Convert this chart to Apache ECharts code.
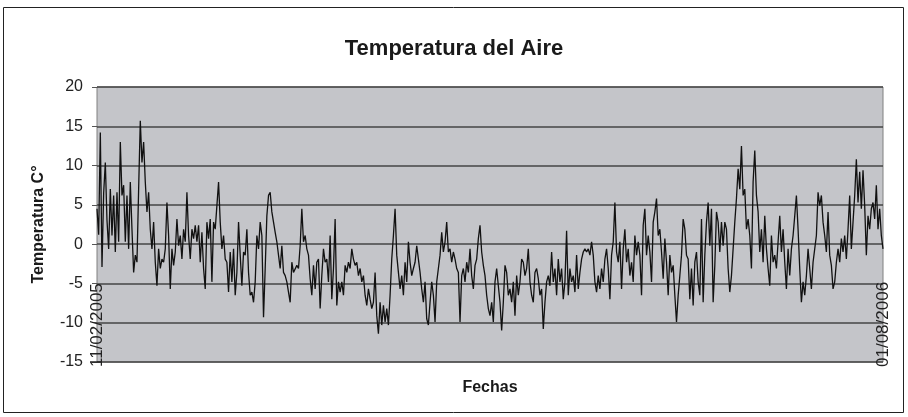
<!DOCTYPE html>
<html>
<head>
<meta charset="utf-8">
<script src="https://cdn.jsdelivr.net/npm/echarts@6/dist/echarts.min.js"></script>
<style>
html,body{margin:0;padding:0;background:#fff;}
#c{width:908px;height:417px;}
</style>
</head>
<body>
<div id="c"></div>
<script>
const titleText = 'Temperatura del Aire';
const yAxisName = 'Temperatura C°';
const xAxisName = 'Fechas';
const xTickLabels = ['11/02/2005', '01/08/2006'];
const yMin = -15, yMax = 20, yStep = 5;

const seg1 = [4.5,1.2,14.2,-2.9,6.5,10.4,3.0,-0.6,7.0,1.1,
6.2,-1.0,6.6,0.3,13.0,6.2,7.5,0.3,6.2,-0.6,
7.9,1.9,-3.6,-1.4,-2.3,7.0,15.7,10.4,13.0,7.9,
4.1,6.6,1.9,-0.6,2.8,-2.3,-5.3,-0.6,-3.1,-1.9,
-2.3,-0.6,5.3,1.1,-5.7,-0.6,-2.7,-1.0,3.2,-0.2,
1.1,-1.9,1.9,0.3,6.6,1.1,-1.9,1.9,0.7,2.4,
0.3,2.4,-2.3,1.5,-3.1,-5.7,2.8,0.7,3.2,-4.8,
2.8,1.9,4.9,7.9,2.8,-0.6,1.1,-1.9,-2.3,-6.1,
-1.0,-4.8,-0.6,-6.5,-3.6,2.8,-1.4,-5.3,-1.0,-1.4,
1.9,-3.6,-6.5,-6.1,-7.4,-4.8,1.1,-0.6,2.8,1.1,
-9.3,-3.1,3.6,6.2,6.6,4.1,2.8,1.5,0.3,-1.4,
-3.1,-0.2,-3.6,-4.0,-4.8,-6.1,-7.4,-2.3,-3.6];

const seg2 = [-3.6,-2.7,-3.1,-0.2,4.5,0.3,1.1,-0.6,-1.4,-4.4,
-6.5,-2.7,-5.7,-2.3,-1.9,-8.2,-4.0,-0.6,-2.3,-1.9,
-4.8,1.1,-7.0,-3.1,3.2,-7.8,-4.8,-6.1,-4.8,-6.5,
-2.7,-3.6,-2.3,-3.1,-0.6,-1.9,-2.7,-2.3,-4.0,-3.1,
-4.8,-4.0,-6.5,-7.8,-5.7,-7.0,-8.2,-7.4,-3.6,-9.1,
-11.4,-7.4,-10.3,-7.8,-9.9,-8.2,-10.3,-6.5,-1.9,1.1,
4.5,-1.4,-3.6,-5.7,-4.0,-6.5,-2.3,-4.8,0.3,-2.3,
-4.0,-3.1,-2.3,-0.2,-1.9,-3.6,-5.7,-7.4,-4.8,-9.5,
-10.3,-7.4,-4.8,-6.5,-9.9,-4.8,-3.1,-1.4,1.5,-1.0,
0.3,2.8,-1.0,-0.6,-2.3,-1.0,-1.9,-3.1,-3.6,-9.9,
-4.0,-3.1,-4.8,-2.3,-3.6,-0.6,-4.0,-5.7,-2.7,-1.9,
0.7,2.4,-1.0,-2.7,-4.0,-6.5,-8.2,-9.1];

const seg3 = [-7.4,-9.9,-4.8,-3.1,-5.3,-7.4,-11.0,-7.4,-2.7,-3.6,
-6.5,-5.7,-7.4,-4.8,-9.1,-4.0,-6.5,-4.8,-1.9,-2.3,
-4.0,-3.1,-0.6,-4.8,-6.5,-7.4,-3.6,-3.1,-4.4,-6.5,
-5.7,-10.8,-7.4,-4.8,-4.0,-5.3,-1.0,-4.8,-3.1,-6.5,
-1.9,-4.8,-3.1,-7.0,-4.8,1.7,-6.5,-3.1,-4.8,-4.0,
-6.1,-1.4,-5.7,-3.6,-1.9,-1.0,-0.6,-1.0,-0.6,-1.4,
0.3,-1.4,-4.8,-6.1,-4.0,-5.7,-3.1,-4.8,-1.9,-0.6,
-3.1,-7.0,-1.4,0.3,5.3,-1.0,-2.3,0.3,-5.7,-0.6,
1.9,-2.3,-0.6,-4.0,-2.3,-4.8,1.1,-1.4,0.3,-1.4,
-6.5,2.4,4.5,-1.4,1.1,-1.0,-4.8,2.8,4.1,5.8,
1.1,1.9,-1.0,-4.4,0.7,-2.3,-6.5,-1.4,-3.6,-2.7,
-6.5,-9.9,-6.5,-4.0,-1.4,3.2,1.9,-1.4];

const seg4 = [-1.9,-7.0,-3.1,-7.8,-2.3,-1.0,-4.8,-6.5,3.2,-7.4,
-1.4,2.8,5.3,-0.2,4.5,-7.4,-2.7,4.1,2.8,-1.0,
2.8,-0.2,2.8,1.9,-3.1,-6.1,-4.0,-0.6,2.8,5.8,
9.6,7.0,12.5,6.2,7.0,1.9,3.2,1.1,-3.1,7.9,
11.9,6.2,4.1,-1.0,1.9,-2.3,3.6,-0.6,-3.1,-5.3,
1.1,-2.3,-1.4,-3.1,0.3,3.6,-1.0,1.9,-2.3,-5.7,
-0.6,-4.0,-0.6,1.1,3.6,6.2,1.9,-3.1,-7.4,-4.8,
-6.5,-4.0,-0.6,-3.1,-5.7,-2.3,-0.6,1.1,6.6,4.9,
6.2,2.8,1.1,-1.0,4.1,-1.4,-2.7,-5.7,-4.8,-2.3,
-0.6,-2.3,0.7,-1.0,1.1,-1.9,1.9,6.2,-0.6,2.8,
6.2,10.8,5.3,9.2,4.5,9.4,4.9,-1.4,3.6,1.9,
4.5,5.3,3.2,7.5,1.9,4.5,1.1,-0.6];

const temps = seg1.concat(seg2, seg3, seg4);
const n = temps.length;
const categories = temps.map((_, i) => String(i));

const chart = echarts.init(document.getElementById('c'), null, {renderer: 'canvas'});
chart.setOption({
  animation: false,
  backgroundColor: '#ffffff',
  textStyle: {fontFamily: '"Liberation Sans", Arial, sans-serif'},
  title: {
    text: titleText, left: 'center', top: 33,
    textStyle: {fontSize: 22, fontWeight: 'bold', color: '#1a1a1a', fontFamily: '"Liberation Sans", Arial, sans-serif'}
  },
  graphic: [{
    type: 'rect', silent: true, z: 100,
    shape: {x: 3.5, y: 7.5, width: 900, height: 405},
    style: {fill: 'none', stroke: '#222', lineWidth: 1}
  }],
  grid: {
    left: 97, right: 25, top: 87, bottom: 55,
    show: true, backgroundColor: '#c4c5c9', borderColor: '#808080', borderWidth: 1
  },
  xAxis: {
    type: 'category', data: categories, boundaryGap: false,
    name: xAxisName, nameLocation: 'middle', nameGap: 26,
    nameTextStyle: {fontSize: 16, fontWeight: 'bold', color: '#1a1a1a', verticalAlign: 'middle'},
    axisLine: {show: false}, axisTick: {show: false}, splitLine: {show: false},
    axisLabel: {
      show: true, rotate: 90, align: 'left', verticalAlign: 'middle', margin: 5,
      fontSize: 17, color: '#222',
      interval: (i) => i === 0 || i === n - 1,
      showMinLabel: true, showMaxLabel: true, hideOverlap: false,
      formatter: (v, i) => (i === 0 ? xTickLabels[0] : (i === n - 1 ? xTickLabels[1] : ''))
    }
  },
  yAxis: {
    type: 'value', min: yMin, max: yMax, interval: yStep,
    name: yAxisName, nameLocation: 'middle', nameGap: 50, nameRotate: 90,
    nameTextStyle: {fontSize: 16, fontWeight: 'bold', color: '#1a1a1a'},
    axisLine: {show: false},
    axisTick: {show: true, length: 5, lineStyle: {color: '#555'}},
    axisLabel: {fontSize: 16, color: '#222', margin: 14},
    splitLine: {show: true, lineStyle: {color: '#454545', width: 1.5}}
  },
  series: [{
    type: 'line', data: temps, showSymbol: false, symbol: 'none',
    sampling: null,
    lineStyle: {color: '#111111', width: 1.3},
    z: 5
  }]
});
</script>
</body>
</html>
